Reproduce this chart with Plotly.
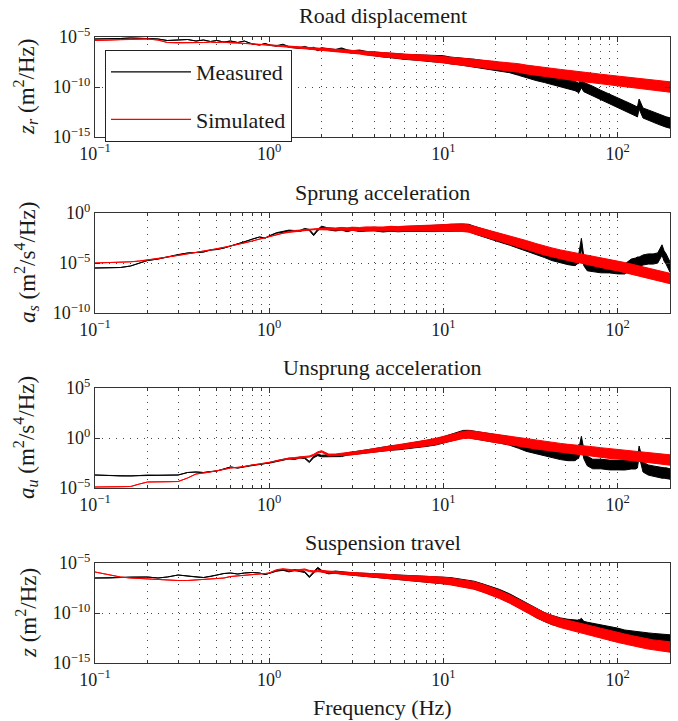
import numpy as np
import plotly.graph_objects as go

# ---------------- data (PSD values, as log10 exponents) ----------------
FREQ_HZ = [0.1, 0.12, 0.14, 0.16, 0.18, 0.2, 0.23, 0.26, 0.3, 0.34,
           0.38, 0.42, 0.46, 0.5, 0.55, 0.6, 0.66, 0.72, 0.8, 0.88,
           0.95, 1.0, 1.1, 1.2, 1.3, 1.4, 1.5, 1.6, 1.7, 1.8,
           1.9, 2.0, 2.2, 2.4, 2.6, 2.8, 3.0, 3.3, 3.6, 4.0,
           4.5, 5.0, 5.5, 6.0, 7.0, 8.0, 9.0, 10, 11, 12,
           13, 14, 15, 17, 19, 21, 24, 27, 30, 34,
           38, 42, 47, 52, 57, 60, 62, 64, 67, 72,
           80, 90, 100, 110, 120, 127, 130, 133, 140, 150,
           160, 170, 180, 185, 190, 200]

# half thickness (decades) of the dense noise band of the spectra
NOISE_HALF_DEC = [0, 0, 0, 0, 0, 0, 0, 0, 0, 0,
                  0, 0, 0, 0, 0, 0, 0, 0, 0, 0,
                  0, 0.02, 0.03, 0.03, 0.04, 0.05, 0.05, 0.06, 0.06, 0.07,
                  0.07, 0.08, 0.09, 0.10, 0.11, 0.12, 0.13, 0.15, 0.16, 0.18,
                  0.20, 0.22, 0.23, 0.24, 0.27, 0.29, 0.31, 0.33, 0.34, 0.35,
                  0.36, 0.37, 0.38, 0.39, 0.40, 0.41, 0.42, 0.43, 0.44, 0.45,
                  0.45, 0.46, 0.46, 0.47, 0.47, 0.47, 0.47, 0.47, 0.48, 0.48,
                  0.48, 0.49, 0.49, 0.50, 0.50, 0.50, 0.50, 0.50, 0.50, 0.51,
                  0.51, 0.51, 0.52, 0.52, 0.52, 0.52]

ROAD_MEASURED = [-5.2, -5.2, -5.15, -5.1, -5.1, -5.15, -5.2, -5.35, -5.3, -5.25,
                 -5.4, -5.3, -5.45, -5.35, -5.5, -5.4, -5.55, -5.4, -5.7, -5.8,
                 -5.65, -5.8, -5.9, -5.75, -6.0, -6.05, -6.1, -6.0, -6.15, -6.1,
                 -6.3, -6.15, -6.25, -6.35, -6.2, -6.4, -6.5, -6.45, -6.6, -6.7,
                 -6.8, -6.85, -6.9, -7.0, -7.05, -7.1, -7.2, -7.2, -7.35, -7.4,
                 -7.5, -7.55, -7.6, -7.75, -7.9, -8.0, -8.15, -8.4, -8.6, -8.9,
                 -9.1, -9.3, -9.5, -9.7, -9.9, -10.1, -9.6, -10.0, -10.15, -10.4,
                 -10.8, -11.2, -11.5, -11.9, -12.2, -12.4, -12.5, -11.7, -12.6, -12.8,
                 -13.0, -13.2, -13.35, -13.45, -13.5, -13.6]
ROAD_SIMULATED = [-5.35, -5.3, -5.25, -5.2, -5.2, -5.2, -5.3, -5.55, -5.6, -5.6,
                  -5.55, -5.55, -5.5, -5.55, -5.5, -5.6, -5.6, -5.65, -5.7, -5.75,
                  -5.8, -5.8, -5.85, -5.9, -5.95, -6.0, -6.05, -6.1, -6.1, -6.15,
                  -6.2, -6.2, -6.3, -6.35, -6.4, -6.45, -6.5, -6.55, -6.65, -6.7,
                  -6.8, -6.85, -6.9, -7.0, -7.05, -7.1, -7.2, -7.25, -7.35, -7.4,
                  -7.5, -7.5, -7.6, -7.7, -7.8, -7.9, -8.0, -8.1, -8.25, -8.4,
                  -8.5, -8.6, -8.7, -8.8, -8.9, -8.95, -9.0, -9.0, -9.05, -9.1,
                  -9.2, -9.3, -9.4, -9.5, -9.55, -9.6, -9.6, -9.65, -9.7, -9.75,
                  -9.8, -9.85, -9.9, -9.95, -9.95, -10.0]

SPRUNG_MEASURED = [-5.5, -5.5, -5.45, -5.3, -5.0, -4.75, -4.6, -4.4, -4.15, -4.0,
                   -3.95, -3.9, -3.7, -3.65, -3.5, -3.3, -3.1, -2.9, -2.6, -2.4,
                   -2.5, -2.3, -2.0, -1.9, -1.75, -1.8, -1.8, -1.6, -1.7, -2.2,
                   -1.7, -1.4, -1.6, -1.7, -1.6, -1.75, -1.6, -1.7, -1.65, -1.6,
                   -1.7, -1.6, -1.65, -1.6, -1.6, -1.55, -1.55, -1.5, -1.5, -1.45,
                   -1.45, -1.5, -1.7, -2.0, -2.3, -2.5, -2.8, -3.1, -3.35, -3.7,
                   -4.0, -4.3, -4.5, -4.7, -4.8, -4.5, -3.0, -4.8, -5.3, -5.4,
                   -5.5, -5.5, -5.6, -5.6, -5.1, -5.0, -4.9, -4.9, -4.7, -4.6,
                   -4.6, -4.5, -3.7, -4.3, -4.6, -5.4]
SPRUNG_SIMULATED = [-5.0, -4.97, -4.93, -4.88, -4.8, -4.72, -4.55, -4.4, -4.25, -4.1,
                    -3.95, -3.8, -3.7, -3.6, -3.45, -3.3, -3.15, -3.0, -2.8, -2.6,
                    -2.45, -2.35, -2.15, -2.0, -1.9, -1.8, -1.75, -1.7, -1.65, -1.6,
                    -1.6, -1.6, -1.55, -1.6, -1.55, -1.6, -1.55, -1.6, -1.55, -1.6,
                    -1.6, -1.55, -1.6, -1.55, -1.55, -1.5, -1.5, -1.5, -1.45, -1.45,
                    -1.5, -1.55, -1.7, -1.95, -2.2, -2.4, -2.7, -3.0, -3.2, -3.5,
                    -3.75, -3.95, -4.15, -4.3, -4.45, -4.5, -4.55, -4.6, -4.7, -4.8,
                    -4.95, -5.15, -5.3, -5.45, -5.6, -5.7, -5.75, -5.8, -5.9, -6.0,
                    -6.15, -6.25, -6.35, -6.4, -6.45, -6.55]

UNSPRUNG_MEASURED = [-3.7, -3.75, -3.8, -3.8, -3.75, -3.7, -3.72, -3.72, -3.7, -3.45,
                     -3.4, -3.45, -3.35, -3.3, -3.1, -2.9, -3.0, -2.85, -2.7, -2.65,
                     -2.55, -2.5, -2.3, -2.2, -2.05, -2.1, -1.95, -2.0, -2.4, -1.9,
                     -1.7, -1.8, -1.8, -1.75, -1.75, -1.6, -1.55, -1.45, -1.35, -1.25,
                     -1.1, -1.0, -0.95, -0.85, -0.7, -0.55, -0.4, -0.2, 0.0, 0.2,
                     0.4, 0.4, 0.3, 0.15, 0.0, -0.1, -0.3, -0.6, -0.9, -1.1,
                     -1.3, -1.5, -1.7, -1.8, -1.8, -1.5, -0.3, -1.6, -2.3, -2.6,
                     -2.6, -2.7, -2.7, -2.7, -2.6, -2.6, -2.5, -1.3, -2.9, -3.2,
                     -3.3, -3.4, -3.5, -3.5, -3.5, -3.6]
UNSPRUNG_SIMULATED = [-4.9, -4.9, -4.88, -4.85, -4.6, -4.4, -4.38, -4.38, -4.35, -4.0,
                      -3.6, -3.5, -3.4, -3.3, -3.15, -3.0, -2.95, -2.85, -2.7, -2.6,
                      -2.5, -2.45, -2.3, -2.15, -2.05, -2.0, -1.95, -1.9, -1.85, -1.7,
                      -1.45, -1.35, -1.7, -1.7, -1.65, -1.6, -1.55, -1.45, -1.35, -1.25,
                      -1.1, -1.0, -0.9, -0.8, -0.65, -0.5, -0.35, -0.2, 0.0, 0.15,
                      0.3, 0.35, 0.3, 0.15, 0.0, -0.1, -0.25, -0.4, -0.5, -0.65,
                      -0.8, -0.9, -1.0, -1.1, -1.15, -1.2, -1.2, -1.25, -1.3, -1.35,
                      -1.45, -1.55, -1.6, -1.7, -1.75, -1.8, -1.8, -1.85, -1.9, -1.95,
                      -2.0, -2.05, -2.1, -2.15, -2.15, -2.2]

TRAVEL_MEASURED = [-6.5, -6.5, -6.45, -6.4, -6.4, -6.4, -6.5, -6.4, -6.2, -6.3,
                   -6.4, -6.45, -6.35, -6.2, -6.05, -6.0, -6.1, -6.0, -5.95, -6.0,
                   -6.15, -6.05, -5.8, -5.7, -5.85, -5.7, -5.8, -5.9, -6.4, -5.9,
                   -5.5, -5.8, -6.0, -5.9, -6.0, -6.05, -6.1, -6.15, -6.2, -6.25,
                   -6.3, -6.4, -6.45, -6.5, -6.55, -6.6, -6.7, -6.75, -6.8, -6.9,
                   -7.0, -7.1, -7.2, -7.5, -7.8, -8.05, -8.5, -9.0, -9.4, -10.0,
                   -10.4, -10.7, -10.95, -11.1, -11.2, -11.2, -11.0, -11.3, -11.4, -11.5,
                   -11.7, -11.85, -12.0, -12.2, -12.3, -12.35, -12.4, -12.4, -12.45, -12.5,
                   -12.55, -12.6, -12.65, -12.65, -12.7, -12.7]
TRAVEL_SIMULATED = [-5.9, -6.2, -6.4, -6.5, -6.55, -6.6, -6.65, -6.7, -6.75, -6.75,
                    -6.7, -6.65, -6.6, -6.55, -6.5, -6.35, -6.3, -6.2, -6.15, -6.1,
                    -6.05, -6.0, -5.7, -5.6, -5.7, -5.75, -5.7, -5.65, -5.8, -5.85,
                    -5.8, -5.85, -5.9, -5.95, -6.0, -6.05, -6.1, -6.15, -6.2, -6.25,
                    -6.3, -6.4, -6.45, -6.5, -6.55, -6.6, -6.7, -6.75, -6.85, -6.95,
                    -7.05, -7.15, -7.25, -7.55, -7.85, -8.15, -8.6, -9.05, -9.5, -10.0,
                    -10.4, -10.7, -11.0, -11.2, -11.35, -11.45, -11.5, -11.55, -11.65, -11.8,
                    -12.0, -12.25, -12.45, -12.6, -12.75, -12.85, -12.9, -12.9, -13.0, -13.1,
                    -13.2, -13.25, -13.3, -13.35, -13.35, -13.4]

SERIES_NAMES = ["Measured", "Simulated"]
SERIES_COLORS = ["#000000", "#ff0000"]

PANEL_TITLES = ["Road displacement", "Sprung acceleration",
                "Unsprung acceleration", "Suspension travel"]
Y_TITLES = ["<i>z<sub>r</sub></i> (m<sup>2</sup>/Hz)",
            "<i>a<sub>s</sub></i> (m<sup>2</sup>/s<sup>4</sup>/Hz)",
            "<i>a<sub>u</sub></i> (m<sup>2</sup>/s<sup>4</sup>/Hz)",
            "<i>z</i> (m<sup>2</sup>/Hz)"]
Y_DECADE_RANGES = [(-15, -5), (-10, 0), (-5, 5), (-15, -5)]
X_TICK_DECADES = [-1, 0, 1, 2]
X_LABEL = "Frequency (Hz)"
PANEL_DATA = [(ROAD_MEASURED, ROAD_SIMULATED), (SPRUNG_MEASURED, SPRUNG_SIMULATED),
              (UNSPRUNG_MEASURED, UNSPRUNG_SIMULATED), (TRAVEL_MEASURED, TRAVEL_SIMULATED)]

# ---------------- layout constants (pixels) ----------------
W, H = 678, 721
X_LEFT, X_RIGHT = 95, 670
PANEL_TOPS = [37, 213, 388, 563]
PANEL_H = 100
FONT = "Liberation Serif"
TXT = "#1a1a1a"


def sup(e):
    return "10<sup>%s</sup>" % (str(e).replace("-", "\u2212"))


fig = go.Figure()

x_major = [10.0 ** d for d in X_TICK_DECADES]
x_major_text = [sup(d) for d in X_TICK_DECADES]
x_minor = [m * 10.0 ** d for d in X_TICK_DECADES for m in range(2, 10) if m * 10.0 ** d <= 200]

for i, (meas, sim) in enumerate(PANEL_DATA):
    xa = "x" if i == 0 else "x%d" % (i + 1)
    ya = "y" if i == 0 else "y%d" % (i + 1)
    for vals, name, color in zip((meas, sim), SERIES_NAMES, SERIES_COLORS):
        upper = [10.0 ** (v + h) for v, h in zip(vals, NOISE_HALF_DEC)]
        lower = [10.0 ** (v - h) for v, h in zip(vals, NOISE_HALF_DEC)]
        fig.add_trace(go.Scatter(
            x=FREQ_HZ + FREQ_HZ[::-1], y=upper + lower[::-1],
            mode="lines", fill="toself", fillcolor=color,
            line=dict(color=color, width=1), showlegend=False,
            hoverinfo="skip", xaxis=xa, yaxis=ya))

    top = PANEL_TOPS[i]
    y0 = 1 - (top + PANEL_H) / H
    y1 = 1 - top / H
    lo, hi = Y_DECADE_RANGES[i]
    mid = int((lo + hi) / 2)
    ytv = [10.0 ** lo, 10.0 ** mid, 10.0 ** hi]
    ytt = [sup(lo), sup(mid), sup(hi)]
    grid = dict(showgrid=True, gridcolor="#444", gridwidth=1, griddash="1px,6px")
    axis_common = dict(showline=True, linecolor="#333", linewidth=1, mirror="ticks",
                       ticks="inside", ticklen=5, tickcolor="#333",
                       zeroline=False, automargin=False,
                       tickfont=dict(family=FONT, size=18, color=TXT), **grid)
    xkey = "xaxis" if i == 0 else "xaxis%d" % (i + 1)
    ykey = "yaxis" if i == 0 else "yaxis%d" % (i + 1)
    fig.update_layout(**{
        xkey: dict(type="log", range=[-1, np.log10(200)],
                   domain=[X_LEFT / W, X_RIGHT / W], anchor=ya,
                   tickmode="array", tickvals=x_major, ticktext=x_major_text,
                   minor=dict(tickmode="array", tickvals=x_minor, ticks="inside",
                              ticklen=3, tickcolor="#333", **grid),
                   **axis_common),
        ykey: dict(type="log", range=[lo, hi], domain=[y0, y1], anchor=xa,
                   tickmode="array", tickvals=ytv, ticktext=ytt, **axis_common),
    })
    fig.add_annotation(text=PANEL_TITLES[i], xref="paper", yref="paper",
                       x=(X_LEFT + X_RIGHT) / 2 / W, y=1 - (top - 21) / H,
                       showarrow=False, xanchor="center", yanchor="middle",
                       font=dict(family=FONT, size=22, color=TXT))
    fig.add_annotation(text=Y_TITLES[i], xref="paper", yref="paper",
                       x=26 / W, y=1 - (top + PANEL_H / 2) / H, textangle=-90,
                       showarrow=False, xanchor="center", yanchor="middle",
                       font=dict(family=FONT, size=23, color=TXT))

# legend entries
for name, color in zip(SERIES_NAMES, SERIES_COLORS):
    fig.add_trace(go.Scatter(x=[None], y=[None], mode="lines", name=name,
                             legendgroup=name, line=dict(color=color, width=1.2),
                             xaxis="x", yaxis="y"))

fig.add_annotation(text=X_LABEL, xref="paper", yref="paper",
                   x=(X_LEFT + X_RIGHT) / 2 / W, y=1 - 707 / H, showarrow=False,
                   xanchor="center", yanchor="middle",
                   font=dict(family=FONT, size=22, color=TXT))

fig.update_layout(
    width=W, height=H, margin=dict(l=0, r=0, t=0, b=0),
    paper_bgcolor="white", plot_bgcolor="white",
    showlegend=True,
    legend=dict(x=105 / W, y=1 - 50 / H, xanchor="left", yanchor="top",
                bgcolor="white", bordercolor="#222", borderwidth=1,
                font=dict(family=FONT, size=22, color=TXT),
                tracegroupgap=16, itemwidth=80, entrywidth=200, entrywidthmode="pixels"),
)

fig.write_html("out.html", config={"displayModeBar": False},
               post_script="document.body.style.margin='0px';document.body.style.padding='0px';")
